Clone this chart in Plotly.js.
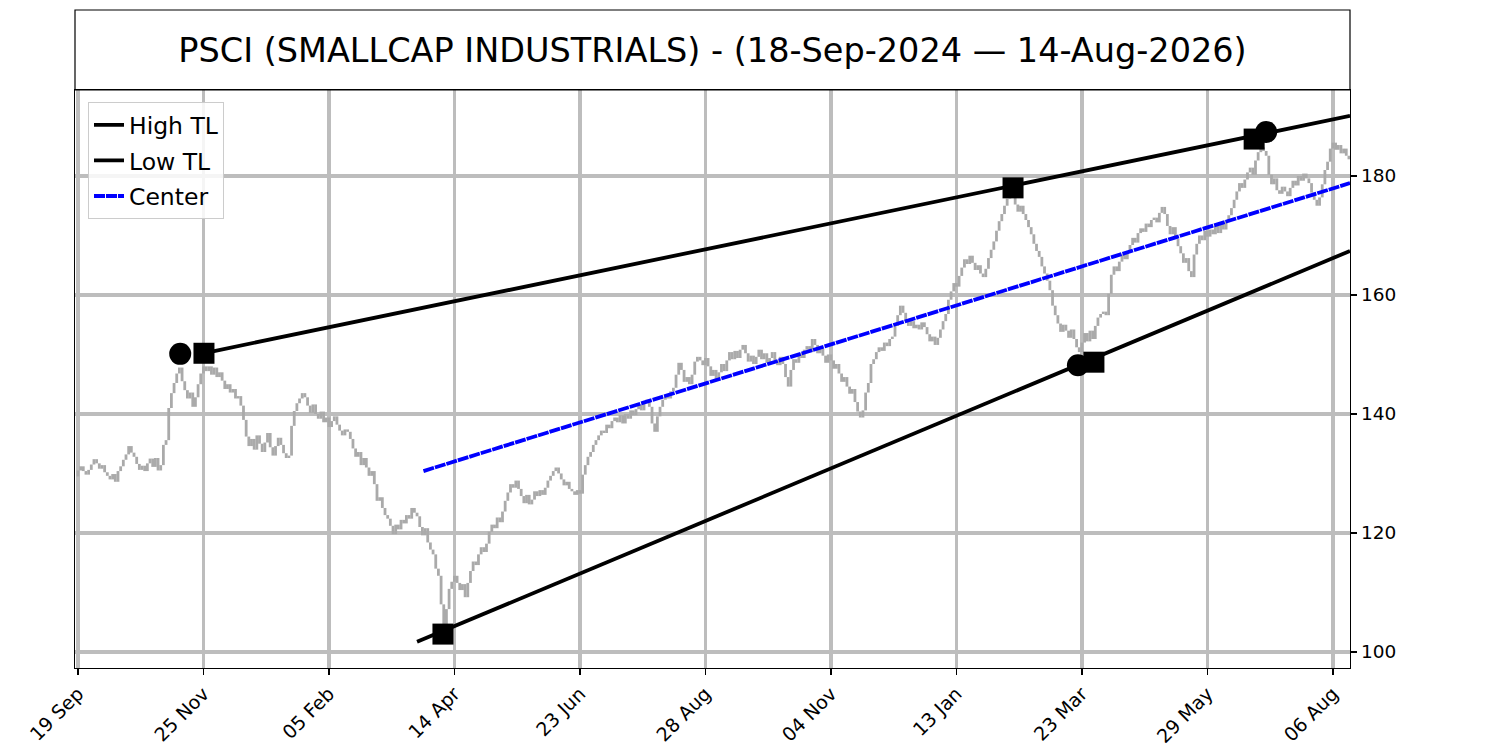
<!DOCTYPE html>
<html>
<head>
<meta charset="utf-8">
<script src="https://cdn.plot.ly/plotly-3.0.1.min.js"></script>
<style>html,body{margin:0;padding:0;background:#fff;}#chart{width:1500px;height:750px;}</style>
</head>
<body>
<div id="chart"></div>
<script>
// Daily closes (trading-day index 0 = 18-Sep-2024)
const closes = [
129.5,130.5,131.2,130.4,129.8,130.6,131.5,132.4,131.7,130.8,
131.4,130.2,129.6,129.0,129.9,128.6,130.4,131.2,132.3,133.2,
134.6,133.5,132.8,131.6,130.6,131.3,130.4,131.7,132.5,131.1,
132.6,130.5,131.4,134.8,135.6,141.0,143.5,145.2,146.8,147.8,
145.5,144.0,142.6,143.6,141.2,142.8,145.0,146.8,148.0,147.2,
148.0,146.6,147.8,146.2,147.0,145.6,144.2,145.0,143.6,144.2,
142.6,143.0,141.4,139.0,136.2,134.6,135.8,134.0,136.4,135.0,
133.6,135.2,136.8,134.4,133.0,134.6,136.0,134.8,133.4,132.6,
133.0,138.0,140.5,141.8,142.6,143.5,142.8,141.4,140.2,141.6,
140.0,139.2,140.4,138.6,139.4,137.8,138.8,139.6,138.2,137.2,
136.4,137.4,137.0,135.8,134.2,132.8,133.6,131.4,132.6,131.0,
129.6,130.4,128.2,125.4,126.0,124.2,123.0,122.4,121.2,119.8,
121.4,120.6,122.2,121.6,123.0,122.4,124.2,123.4,122.8,121.0,
119.6,120.8,118.4,117.2,116.4,114.0,112.8,108.0,104.4,107.2,
110.6,111.8,112.8,111.6,110.4,111.4,109.2,111.6,113.6,115.2,
114.6,116.4,117.6,116.8,118.2,120.2,121.4,120.8,122.6,121.8,
123.6,125.4,126.8,128.2,127.6,128.8,127.4,126.2,125.0,126.4,
124.8,125.6,127.0,126.2,127.2,126.4,127.6,128.8,129.6,130.4,
131.0,130.0,129.0,128.0,128.6,127.4,127.0,126.4,127.2,126.6,
129.8,131.4,132.8,133.6,134.8,135.6,136.4,137.2,136.8,138.2,
137.6,138.8,139.4,138.6,139.8,138.4,140.0,139.2,140.6,139.8,
140.8,141.6,140.6,141.8,142.4,141.2,138.4,137.0,139.6,141.2,
142.4,143.2,142.6,143.8,144.4,146.6,148.6,147.4,145.4,146.2,
145.0,146.6,148.8,149.6,149.0,148.2,149.4,148.0,146.4,147.4,
145.8,147.0,148.4,147.2,149.0,150.4,149.2,150.6,149.4,150.8,
151.6,150.2,148.8,149.8,148.4,149.6,150.8,149.2,150.2,148.6,
149.4,150.4,149.0,148.2,149.6,148.4,146.2,144.6,147.4,149.2,
148.6,150.2,149.4,150.8,151.4,150.4,152.6,151.6,150.2,151.0,
149.8,148.6,150.0,149.0,147.6,148.4,146.8,145.4,146.2,144.6,
143.4,144.2,142.0,140.4,139.4,140.6,143.6,145.2,148.4,149.2,
150.4,151.2,150.6,152.0,151.4,152.6,153.0,154.8,156.6,158.2,
157.0,155.6,154.8,155.6,154.4,155.0,154.2,155.4,154.6,153.4,
152.2,153.0,151.6,152.8,154.2,155.6,156.8,159.2,160.6,162.0,
161.4,163.2,164.6,166.0,165.2,166.6,165.4,164.2,165.0,163.6,
163.0,164.4,166.2,167.6,169.0,170.8,172.4,173.6,175.0,176.2,
177.0,176.4,175.2,174.0,175.0,173.6,172.6,171.4,170.2,168.6,
167.4,166.4,164.8,163.6,162.4,160.8,158.2,156.6,155.2,153.8,
155.0,154.0,152.8,154.2,152.6,151.2,150.4,152.0,153.6,152.2,
154.0,152.6,154.8,156.2,156.8,157.2,156.6,160.2,163.4,164.8,
164.0,165.6,166.8,166.0,167.4,168.4,169.6,168.8,170.4,171.2,
170.6,172.0,171.4,172.6,173.0,172.2,173.8,174.8,173.6,171.6,
170.2,171.4,169.4,168.2,167.0,165.4,166.2,164.0,163.0,166.8,
168.6,170.0,169.2,170.8,169.8,171.0,170.2,171.6,170.4,172.2,
171.0,172.6,173.4,174.6,176.0,177.4,178.8,178.0,179.4,180.6,
181.4,180.2,182.6,184.0,184.8,184.2,183.4,180.2,178.6,179.6,
177.6,177.0,178.2,177.4,176.6,178.0,179.2,178.4,180.0,179.2,
180.4,179.6,178.8,177.2,176.0,175.0,176.4,178.6,181.0,182.4,
184.6,185.6,184.4,185.2,183.8,184.6,183.4,182.8
];

// Tick labels on the trading-day index axis
const tickIdx = [1, 48, 95, 142, 189, 236, 283, 330, 377, 424, 471];
const tickLabels = ["19 Sep","25 Nov","05 Feb","14 Apr","23 Jun","28 Aug","04 Nov","13 Jan","23 Mar","29 May","06 Aug"];
const yTicks = [100, 120, 140, 160, 180];

// Trendlines (index, price)
const highTLx = [48, 477.4];
const highTLy = [150.2, 190.1];
const lowTLx = [128, 477.4];
const lowTLy = [101.7, 167.4];
const centerX = [130.4, 477.4];
const centerY = [130.4, 178.8];

// Pivot markers
const squareX = [48.2, 351.2, 441.5, 137.7, 381.5];
const squareY = [150.2, 178.0, 186.2, 103.0, 148.7];
const circleX = [39.3, 446, 375.5];
const circleY = [150.1, 187.4, 148.2];

const titleText = "PSCI (SMALLCAP INDUSTRIALS) - (18-Sep-2024 \u2014 14-Aug-2026)";

// Build bar segments (previous close -> close) from the data
const barX = [], barY = [];
for (let i = 0; i < closes.length; i++) {
  const prev = i === 0 ? closes[0] : closes[i - 1];
  barX.push(i, i, null);
  barY.push(prev, closes[i], null);
}

const FONT = "DejaVu Sans, Verdana, sans-serif";

const traces = [
  {x: barX, y: barY, mode: "lines", line: {color: "#aaaaaa", width: 2.8}, showlegend: false, hoverinfo: "skip"},
  {x: highTLx, y: highTLy, mode: "lines", name: "High TL", legendgroup: "a", line: {color: "#000000", width: 3.8}},
  {x: lowTLx, y: lowTLy, mode: "lines", name: "Low TL", legendgroup: "b", line: {color: "#000000", width: 3.8}},
  {x: centerX, y: centerY, mode: "lines", name: "Center", legendgroup: "c", line: {color: "#0000ff", width: 3.8, dash: "11px,1px"}},
  {x: squareX, y: squareY, mode: "markers", showlegend: false, marker: {symbol: "square", size: 21, color: "#000000"}},
  {x: circleX, y: circleY, mode: "markers", showlegend: false, marker: {symbol: "circle", size: 22, color: "#000000"}}
];

const layout = {
  width: 1500, height: 750,
  paper_bgcolor: "#ffffff", plot_bgcolor: "#ffffff",
  margin: {l: 75, r: 150, t: 90, b: 82},
  font: {family: FONT, color: "#000000"},
  title: {text: titleText, font: {family: FONT, size: 33.5, color: "#000000"},
          x: 0.5, xref: "paper", xanchor: "center", y: 1 - 50/750, yref: "container", yanchor: "middle"},
  showlegend: true,
  legend: {x: 0.0102, y: 0.979, xanchor: "left", yanchor: "top",
           bgcolor: "rgba(255,255,255,0.85)", bordercolor: "#cccccc", borderwidth: 1,
           font: {family: FONT, size: 23.5, color: "#000000"}, itemwidth: 30, tracegroupgap: 2},
  xaxis: {range: [-0.1, 477.4], tickmode: "array", tickvals: tickIdx, ticktext: tickLabels,
          tickangle: -45, ticks: "outside", ticklen: 6, tickwidth: 1.2, tickcolor: "#000000",
          showgrid: true, gridcolor: "#bdbdbd", gridwidth: 3.5, zeroline: false,
          showline: true, linecolor: "#000000", linewidth: 1.2, mirror: true,
          tickfont: {family: FONT, size: 19, color: "#000000"}},
  yaxis: {range: [97.3, 194.45], side: "right", tickmode: "array", tickvals: yTicks,
          ticks: "outside", ticklen: 6, tickwidth: 1.2, tickcolor: "#000000",
          showgrid: true, gridcolor: "#bdbdbd", gridwidth: 3.5, zeroline: false,
          showline: true, linecolor: "#000000", linewidth: 1.2, mirror: true,
          tickfont: {family: FONT, size: 18.5, color: "#000000"}},
  shapes: [
    {type: "rect", xref: "paper", yref: "paper", x0: 0, x1: 1, y0: 1, y1: (668 - 10) / 578,
     line: {color: "#000000", width: 1.2}, fillcolor: "rgba(0,0,0,0)"}
  ]
};

Plotly.newPlot("chart", traces, layout, {displayModeBar: false, staticPlot: true});
</script>
</body>
</html>
